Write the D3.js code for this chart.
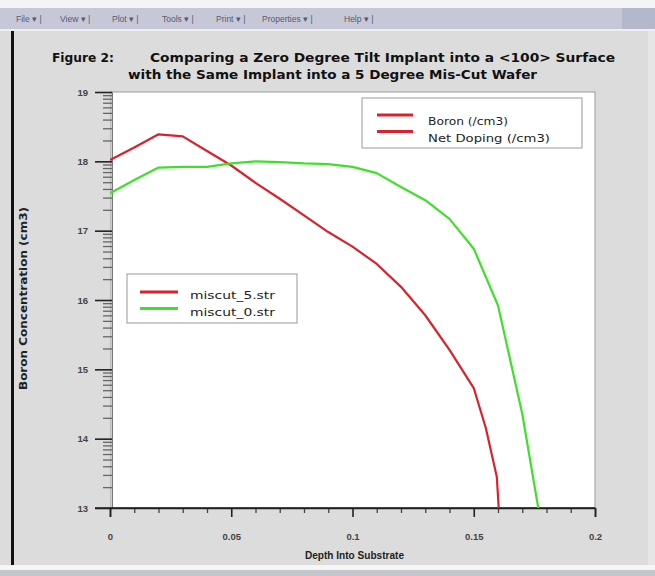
<!DOCTYPE html>
<html>
<head>
<meta charset="utf-8">
<script src="https://cdn.jsdelivr.net/npm/d3@7"></script>
<style>
  html, body { margin: 0; padding: 0; background: #dcdcdc; }
  svg { display: block; font-family: "Liberation Sans", Arial, sans-serif; }
</style>
</head>
<body>
<div id="chart"></div>
<script>
// data (y values are log10 of concentration)
const depth5 = [0, 0.01, 0.02, 0.03, 0.04, 0.05, 0.06, 0.07, 0.08, 0.09, 0.1, 0.11, 0.12, 0.13, 0.14, 0.15, 0.155, 0.1595, 0.161];
const logConc5 = [18.02, 18.2, 18.39, 18.36, 18.15, 17.94, 17.69, 17.46, 17.22, 16.98, 16.77, 16.52, 16.19, 15.78, 15.28, 14.73, 14.15, 13.45, 12.6];

const depth0 = [0, 0.01, 0.02, 0.03, 0.04, 0.05, 0.06, 0.07, 0.08, 0.09, 0.1, 0.11, 0.12, 0.13, 0.14, 0.15, 0.16, 0.17, 0.18];
const logConc0 = [17.54, 17.73, 17.91, 17.92, 17.92, 17.97, 18.0, 17.99, 17.97, 17.96, 17.92, 17.83, 17.63, 17.44, 17.17, 16.74, 15.92, 14.36, 12.3];

const seriesNames = ["miscut_5.str", "miscut_0.str"];
const seriesColors = ["#d8222e", "#3fe02a"];
const topLegend = ["Boron (/cm3)", "Net Doping (/cm3)"];
const xTicks = [0, 0.05, 0.1, 0.15, 0.2];
const xTickLabels = ["0", "0.05", "0.1", "0.15", "0.2"];
const yDecades = [13, 14, 15, 16, 17, 18, 19];
const menuItems = ["File", "View", "Plot", "Tools", "Print", "Properties", "Help"];

const width = 655, height = 576;
const wide = "'DejaVu Sans', Verdana, sans-serif";

const svg = d3.select("#chart").append("svg")
    .attr("width", width)
    .attr("height", height);

// window background
svg.append("rect").attr("width", width).attr("height", height).attr("fill", "#dcdcdc");

// menu bar
svg.append("rect").attr("x", 0).attr("y", 0).attr("width", width).attr("height", 8).attr("fill", "#f4f4f6");
svg.append("rect").attr("x", 0).attr("y", 8).attr("width", width).attr("height", 21).attr("fill", "#c6c8d8");
svg.append("rect").attr("x", 622).attr("y", 8).attr("width", 33).attr("height", 21).attr("fill", "#b4b8cc");
svg.append("rect").attr("x", 0).attr("y", 29).attr("width", width).attr("height", 2).attr("fill", "#eeeeee");

const menuX = [16, 60, 112, 162, 216, 262, 344];
svg.append("g").selectAll("text")
    .data(menuItems)
    .join("text")
    .attr("x", (d, i) => menuX[i])
    .attr("y", 22)
    .attr("font-size", 8.5)
    .attr("fill", "#555a70")
    .text(d => d + " \u25BE |");

// left black frame line
svg.append("rect").attr("x", 11).attr("y", 31).attr("width", 3).attr("height", 545).attr("fill", "#111");
// right edge
svg.append("rect").attr("x", 648).attr("y", 31).attr("width", 7).attr("height", 535).attr("fill", "#e6e6e6");

// bottom status bar
svg.append("rect").attr("x", 0).attr("y", 565).attr("width", width).attr("height", 5).attr("fill", "#f6f6f6");
svg.append("rect").attr("x", 0).attr("y", 570).attr("width", width).attr("height", 6).attr("fill", "#c4c6cc");

// title
const title = svg.append("g")
    .attr("font-family", wide).attr("font-size", 12).attr("font-weight", "bold").attr("fill", "#111");
title.append("text")
    .attr("x", 52).attr("y", 62)
    .attr("textLength", 62).attr("lengthAdjust", "spacingAndGlyphs")
    .text("Figure 2:");
title.append("text")
    .attr("x", 150).attr("y", 62)
    .attr("textLength", 465).attr("lengthAdjust", "spacingAndGlyphs")
    .text("Comparing a Zero Degree Tilt Implant into a <100> Surface");
title.append("text")
    .attr("x", 128).attr("y", 79)
    .attr("textLength", 409).attr("lengthAdjust", "spacingAndGlyphs")
    .text("with the Same Implant into a 5 Degree Mis-Cut Wafer");

// scales
const x = d3.scaleLinear().domain([0, 0.2]).range([110, 595]);
const y = d3.scaleLog().domain([1e13, 1e19]).range([508, 92]);

// plot area
svg.append("rect")
    .attr("x", x(0) + 1).attr("y", y(1e19))
    .attr("width", x(0.2) - x(0) - 1).attr("height", y(1e13) - y(1e19))
    .attr("fill", "#ffffff")
    .attr("stroke", "#9a9a9a");

svg.append("clipPath").attr("id", "clip")
    .append("rect")
    .attr("x", x(0)).attr("y", y(1e19))
    .attr("width", x(0.2) - x(0)).attr("height", y(1e13) - y(1e19));

// y axis: log minor ticks and decade ticks
const minorY = [];
yDecades.slice(0, -1).forEach(e => {
    for (let k = 2; k <= 9; k++) minorY.push(k * Math.pow(10, e));
});
const majorY = yDecades.map(e => Math.pow(10, e));

const yMinor = svg.append("g")
    .attr("transform", `translate(${x(0) + 2},0)`)
    .call(d3.axisLeft(y).tickValues(minorY).tickSize(9).tickFormat(""));
yMinor.select(".domain").remove();
yMinor.selectAll(".tick line").attr("stroke", "#666").attr("stroke-width", 1.3);

const yMajor = svg.append("g")
    .attr("transform", `translate(${x(0) + 2},0)`)
    .call(d3.axisLeft(y).tickValues(majorY).tickSize(17).tickPadding(7)
        .tickFormat(d => Math.round(Math.log10(d))));
yMajor.select(".domain").attr("stroke", "#777");
yMajor.selectAll(".tick line").attr("stroke", "#222").attr("stroke-width", 1.6);
yMajor.selectAll("text").attr("font-size", 9.5).attr("font-weight", "bold").attr("fill", "#444");

// x axis
const minorX = d3.range(0, 21).map(i => i / 100).filter(v => !xTicks.some(t => Math.abs(t - v) < 1e-9));
const xMinor = svg.append("g")
    .attr("transform", `translate(0,${y(1e13)})`)
    .call(d3.axisBottom(x).tickValues(minorX).tickSize(5).tickFormat(""));
xMinor.select(".domain").remove();
xMinor.selectAll(".tick line").attr("stroke", "#444").attr("stroke-width", 1.3);

const xMajor = svg.append("g")
    .attr("transform", `translate(0,${y(1e13)})`)
    .call(d3.axisBottom(x).tickValues(xTicks).tickSize(9).tickPadding(16)
        .tickFormat((d, i) => xTickLabels[i]));
xMajor.select(".domain").attr("stroke", "#222").attr("stroke-width", 1.5);
xMajor.selectAll(".tick line").attr("stroke", "#222").attr("stroke-width", 1.6);
xMajor.selectAll("text").attr("font-size", 9.5).attr("font-weight", "bold").attr("fill", "#444");

// x axis line extends under the left ticks
svg.append("line")
    .attr("x1", x(0) - 15).attr("x2", x(0.2))
    .attr("y1", y(1e13)).attr("y2", y(1e13))
    .attr("stroke", "#222").attr("stroke-width", 1.5);

// axis titles
svg.append("text")
    .attr("x", 305).attr("y", 559)
    .attr("font-size", 10).attr("font-weight", "bold").attr("fill", "#222")
    .attr("textLength", 99).attr("lengthAdjust", "spacingAndGlyphs")
    .text("Depth Into Substrate");

svg.append("text")
    .attr("transform", `translate(27,390) rotate(-90)`)
    .attr("font-family", wide)
    .attr("font-size", 10).attr("font-weight", "bold").attr("fill", "#222")
    .attr("textLength", 183).attr("lengthAdjust", "spacingAndGlyphs")
    .text("Boron Concentration (cm3)");

// lines
const line = d3.line()
    .x(d => x(d[0]))
    .y(d => y(Math.pow(10, d[1])));

const series = [
    depth5.map((d, i) => [d, logConc5[i]]),
    depth0.map((d, i) => [d, logConc0[i]])
];

svg.append("g").attr("clip-path", "url(#clip)")
    .selectAll("path")
    .data(series)
    .join("path")
    .attr("d", line)
    .attr("fill", "none")
    .attr("stroke", (d, i) => seriesColors[i])
    .attr("stroke-width", 2.2)
    .attr("stroke-linejoin", "round");

// top right legend
const lg1 = svg.append("g");
lg1.append("rect")
    .attr("x", 362).attr("y", 98).attr("width", 220).attr("height", 50)
    .attr("fill", "#fff").attr("stroke", "#999");
lg1.selectAll("line")
    .data(topLegend)
    .join("line")
    .attr("x1", 377).attr("x2", 413)
    .attr("y1", (d, i) => 115 + i * 16.5).attr("y2", (d, i) => 115 + i * 16.5)
    .attr("stroke", seriesColors[0]).attr("stroke-width", 3);
const topLegendLen = [80, 122];
lg1.selectAll("text")
    .data(topLegend)
    .join("text")
    .attr("x", 428)
    .attr("y", (d, i) => 125 + i * 16.5)
    .attr("font-family", wide)
    .attr("font-size", 10.5).attr("fill", "#222")
    .attr("textLength", (d, i) => topLegendLen[i]).attr("lengthAdjust", "spacingAndGlyphs")
    .text(d => d);

// series legend
const lg2 = svg.append("g");
lg2.append("rect")
    .attr("x", 127).attr("y", 274).attr("width", 170).attr("height", 49)
    .attr("fill", "#fff").attr("stroke", "#999");
lg2.selectAll("line")
    .data(seriesNames)
    .join("line")
    .attr("x1", 140).attr("x2", 178)
    .attr("y1", (d, i) => 292 + i * 16.5).attr("y2", (d, i) => 292 + i * 16.5)
    .attr("stroke", (d, i) => seriesColors[i]).attr("stroke-width", 3);
lg2.selectAll("text")
    .data(seriesNames)
    .join("text")
    .attr("x", 190)
    .attr("y", (d, i) => 299 + i * 16.5)
    .attr("font-family", wide)
    .attr("font-size", 10.5).attr("fill", "#222")
    .attr("textLength", 85).attr("lengthAdjust", "spacingAndGlyphs")
    .text(d => d);
</script>
</body>
</html>
